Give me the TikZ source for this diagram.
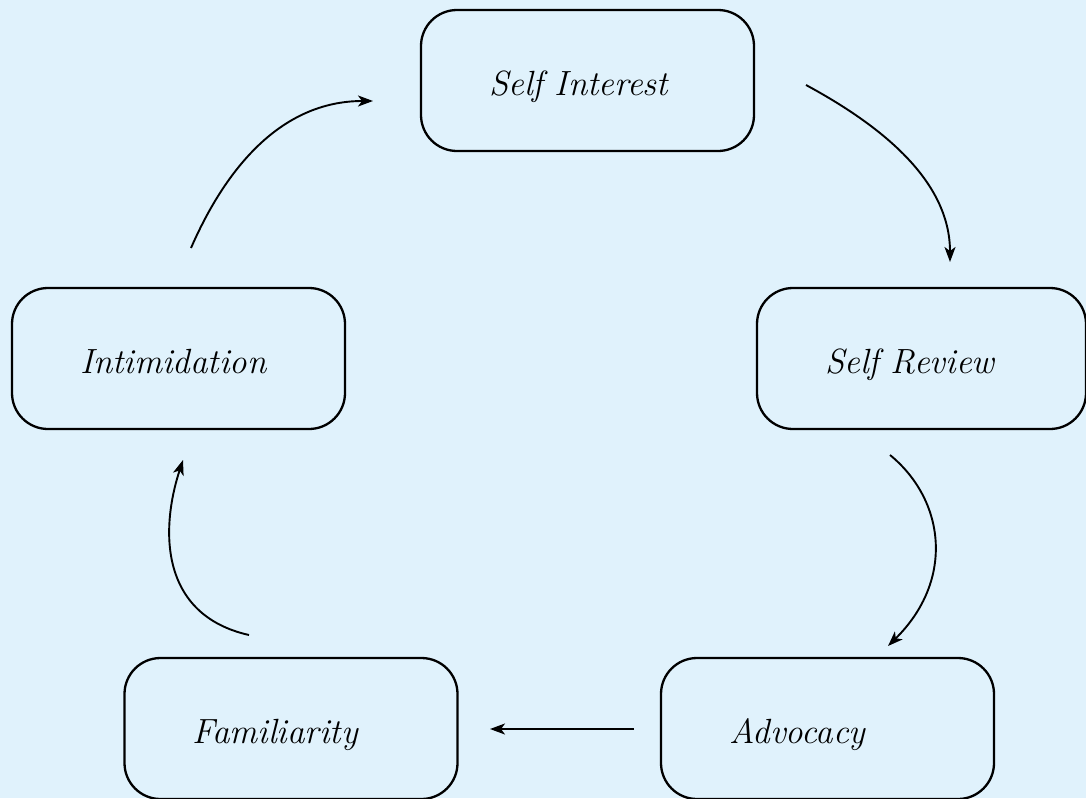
\documentclass[tikz,border=0pt]{standalone}
\usepackage{fontspec}
\setmainfont{Latin Modern Roman}
\usetikzlibrary{arrows.meta}
\definecolor{bgblue}{HTML}{E0F2FC}
\tikzset{
  box/.style={draw=black, line width=2.3pt, rounded corners=36pt, fill=bgblue,
    minimum height=141pt, inner xsep=68pt, text width=#1, align=left,
    text height=36pt, text depth=7pt,
    font=\fontsize{35}{38}\selectfont\itshape},
  box/.default=197pt,
  conn/.style={draw=black, line width=1.9pt, -{Stealth[length=15pt,width=11pt,inset=4pt]}},
}
\begin{document}
\begin{tikzpicture}[x=1pt,y=-1pt]
\useasboundingbox[fill=bgblue] (0,0) rectangle (1086,798);
\node[box] (si) at (587.5,80.5) {Self Interest};
\node[box] (in) at (178.5,358.5) {Intimidation};
\node[box=193pt] (sr) at (921.5,358.5) {Self Review};
\node[box] (fa) at (291,728.5) {Familiarity};
\node[box] (ad) at (827.5,728.5) {Advocacy};
\coordinate (a1s) at (806,85);  \coordinate (a1e) at (950,262);
\coordinate (a2s) at (890,455); \coordinate (a2e) at (888,646);
\coordinate (a3s) at (634,729); \coordinate (a3e) at (490,729);
\coordinate (a4s) at (249,635); \coordinate (a4e) at (183,460);
\coordinate (a5s) at (191,248); \coordinate (a5e) at (373,101);
\draw[conn] (a1s) .. controls (880,125) and (950,180) .. (a1e);
\draw[conn] (a2s) .. controls (945,500) and (955,580) .. (a2e);
\draw[conn] (a3s) -- (a3e);
\draw[conn] (a4s) .. controls (160,615) and (160,530) .. (a4e);
\draw[conn] (a5s) .. controls (225,170) and (280,101) .. (a5e);
\end{tikzpicture}
\end{document}
